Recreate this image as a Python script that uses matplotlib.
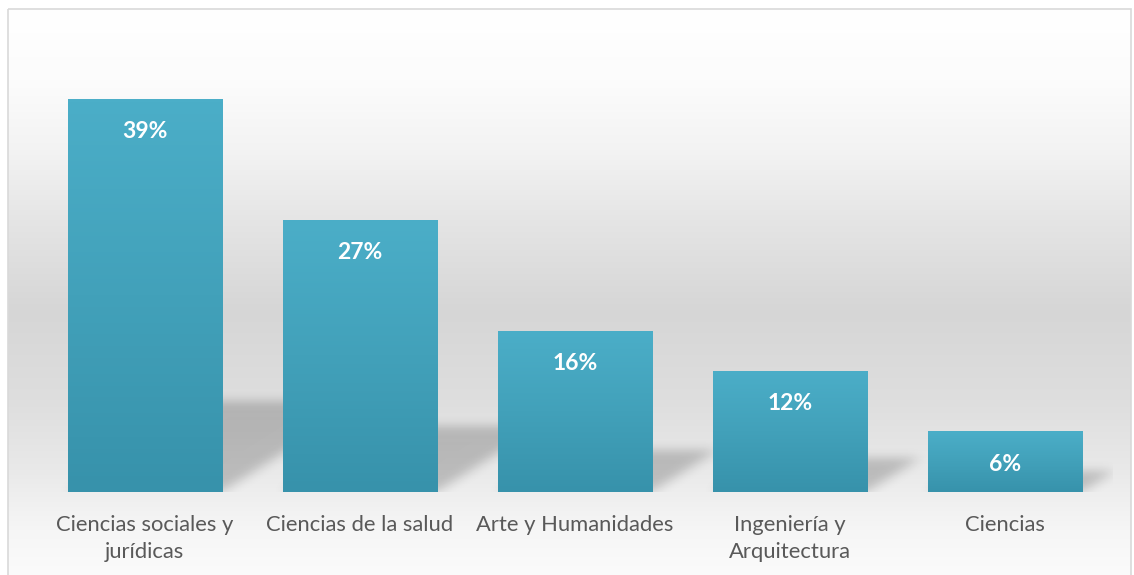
import numpy as np
import matplotlib
matplotlib.use("Agg")
import matplotlib.pyplot as plt
from matplotlib.colors import LinearSegmentedColormap
from matplotlib.patches import Rectangle


categories = [
    "Ciencias sociales y\njurídicas",
    "Ciencias de la salud",
    "Arte y Humanidades",
    "Ingeniería y\nArquitectura",
    "Ciencias",
]
percentages = [39, 27, 16, 12, 6]

plt.rcParams["font.family"] = ["Lato", "DejaVu Sans"]

W, H = 1134, 575
fig = plt.figure(figsize=(W / 100, H / 100), dpi=100, facecolor="white")

# background: soft grey vertical gradient inside a thin frame
bg = fig.add_axes([0, 0, 1, 1], zorder=0)
bg.set_xlim(0, W)
bg.set_ylim(H, 0)
bg.axis("off")
stops_y = [9, 80, 150, 220, 310, 400, 470, 492, 530, 575]
stops_v = [255, 252, 243, 229, 214, 222, 233, 238, 246, 251]
rows = np.interp(np.arange(9, H), stops_y, stops_v) / 255.0
grad = np.repeat(rows[:, None, None], 3, axis=2)
bg.imshow(grad, extent=(8, 1131, H, 9), aspect="auto", interpolation="bilinear")
bg.add_patch(Rectangle((8, 9), 1123, H, fill=False, edgecolor="#D9D9D9", lw=1.2))

ax = fig.add_axes([37 / W, 83 / H, 1075.5 / W, 454 / H], zorder=1)
ax.patch.set_visible(False)

x = np.arange(len(categories))
bar_w = 0.716
xlim = (-0.5, len(categories) - 0.5)
ylim = (0, 45)

# cast shadows: skewed parallelograms rasterised and blurred
nx, ny = 1076, 454
gx = np.linspace(xlim[0], xlim[1], nx)
gy = np.linspace(ylim[0], ylim[1], ny)
X, Y = np.meshgrid(gx, gy)
k = 0.074
mask = np.zeros_like(X)
for xi, v in zip(x, percentages):
    hs = 0.21 * v + 0.8
    xl, xr = xi - bar_w / 2, xi + bar_w / 2
    inside = (Y >= 0) & (Y <= hs) & (X >= xl + Y * k) & (X <= xr + Y * k)
    mask[inside] = 1.0


def blur(a, sigma, axis):
    r = int(3 * sigma)
    kern = np.exp(-0.5 * (np.arange(-r, r + 1) / sigma) ** 2)
    kern /= kern.sum()
    pad = [(0, 0), (0, 0)]
    pad[axis] = (r, r)
    p = np.pad(a, pad, mode="constant")
    out = np.zeros_like(a)
    n = a.shape[axis]
    for i, w in enumerate(kern):
        out += w * (p[i:i + n, :] if axis == 0 else p[:, i:i + n])
    return out


mask = blur(blur(mask, 5, 0), 6, 1)
shadow = np.zeros((ny, nx, 4))
shadow[..., 3] = mask * 0.2
ax.imshow(shadow, extent=(*xlim, *ylim), origin="lower", aspect="auto",
          interpolation="bilinear", zorder=1.5)

bars = ax.bar(x, percentages, width=bar_w, color="#41A0B9", zorder=2)

bar_cmap = LinearSegmentedColormap.from_list("bar", ["#3792AB", "#42A1BA", "#4BAEC8"])
for b in bars:
    bx, by = b.get_x(), b.get_y()
    bw, bh = b.get_width(), b.get_height()
    im = ax.imshow(
        np.linspace(0, 1, 100)[:, None], cmap=bar_cmap, origin="lower",
        extent=(bx, bx + bw, by, by + bh), aspect="auto", zorder=2.5,
    )
    im.set_clip_path(b)

for xi, v in zip(x, percentages):
    ax.annotate(
        f"{v}%", xy=(xi, v), xytext=(0, -23.5), textcoords="offset points",
        ha="center", va="center", color="white", fontsize=16.5, fontweight="bold",
        zorder=4,
    )

ax.set_xlim(*xlim)
ax.set_ylim(*ylim)
ax.set_xticks(x)
ax.set_xticklabels(categories, color="#595959", fontsize=15.8, linespacing=1.47)
ax.tick_params(axis="x", length=0, pad=16.5)
ax.set_yticks([])
for s in ax.spines.values():
    s.set_visible(False)

fig.savefig("out.png", dpi=100, facecolor="white")
